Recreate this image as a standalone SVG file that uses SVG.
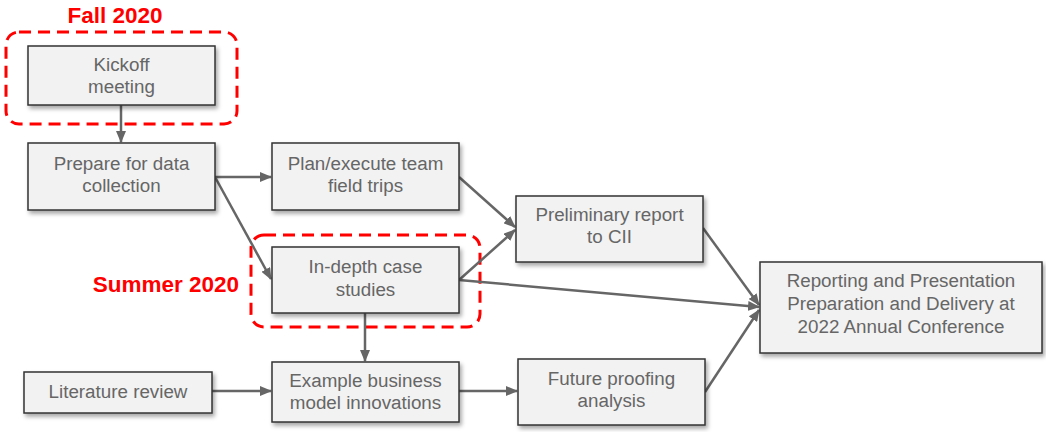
<svg xmlns="http://www.w3.org/2000/svg" width="1046" height="432" viewBox="0 0 1046 432">
<defs>
<filter id="sh" x="-10%" y="-10%" width="130%" height="140%">
<feDropShadow dx="2" dy="3" stdDeviation="2" flood-color="#000" flood-opacity="0.35"/>
</filter>
<marker id="ah" markerWidth="12" markerHeight="10" refX="11" refY="5" orient="auto" markerUnits="userSpaceOnUse">
<path d="M0,0 L12,5 L0,10 Z" fill="#666"/>
</marker>
<style>
.box{fill:#f2f2f2;stroke:#333;stroke-width:1.5;filter:url(#sh)}
.t{font-family:"Liberation Sans",Arial,sans-serif;font-size:18.8px;fill:#666;text-anchor:middle}
.c{stroke:#666;stroke-width:2.5;fill:none;marker-end:url(#ah)}
.grp{fill:none;stroke:#ff0000;stroke-width:3;stroke-dasharray:12,7}
.lbl{font-family:"Liberation Sans",Arial,sans-serif;font-size:22.5px;font-weight:bold;fill:#ff0000}
</style>
</defs>
<rect width="1046" height="432" fill="#fff"/>
<g id="groups">
<rect class="grp" x="6" y="32" width="231" height="92" rx="13"/>
<text class="lbl" x="115" y="23" text-anchor="middle">Fall 2020</text>
<rect class="grp" x="251" y="235" width="229" height="92" rx="13"/>
<text class="lbl" x="239" y="292" text-anchor="end">Summer 2020</text>
</g>
<g id="connectors">
<line class="c" x1="121" y1="105" x2="121" y2="142"/>
<line class="c" x1="215" y1="177" x2="271" y2="177"/>
<line class="c" x1="215" y1="177" x2="271" y2="279"/>
<line class="c" x1="459" y1="177" x2="515" y2="227"/>
<line class="c" x1="459" y1="280" x2="515" y2="230"/>
<line class="c" x1="459" y1="280" x2="759" y2="307"/>
<line class="c" x1="703" y1="228" x2="759" y2="305"/>
<line class="c" x1="705" y1="392" x2="759" y2="310"/>
<line class="c" x1="365" y1="313" x2="365" y2="361"/>
<line class="c" x1="212" y1="391" x2="271" y2="391"/>
<line class="c" x1="459" y1="391" x2="517" y2="391"/>
</g>
<g id="kickoff">
<rect class="box" x="28" y="46" width="187" height="59"/>
<text class="t" x="121.5" y="71">Kickoff</text>
<text class="t" x="121.5" y="93">meeting</text>
</g>
<g id="prepare">
<rect class="box" x="28" y="143" width="187" height="67"/>
<text class="t" x="121.5" y="170">Prepare for data</text>
<text class="t" x="121.5" y="192">collection</text>
</g>
<g id="plan">
<rect class="box" x="272" y="143" width="187" height="67"/>
<text class="t" x="365.5" y="170">Plan/execute team</text>
<text class="t" x="365.5" y="192">field trips</text>
</g>
<g id="indepth">
<rect class="box" x="272" y="247" width="187" height="66"/>
<text class="t" x="365.5" y="273">In-depth case</text>
<text class="t" x="365.5" y="296">studies</text>
</g>
<g id="prelim">
<rect class="box" x="516" y="196" width="187" height="66"/>
<text class="t" x="609.5" y="221">Preliminary report</text>
<text class="t" x="609.5" y="243">to CII</text>
</g>
<g id="reporting">
<rect class="box" x="760" y="262" width="282" height="91"/>
<text class="t" x="901" y="287">Reporting and Presentation</text>
<text class="t" x="901" y="310">Preparation and Delivery at</text>
<text class="t" x="901" y="333">2022 Annual Conference</text>
</g>
<g id="literature">
<rect class="box" x="24" y="372" width="188" height="41"/>
<text class="t" x="118" y="398">Literature review</text>
</g>
<g id="example">
<rect class="box" x="272" y="362" width="187" height="60"/>
<text class="t" x="365.5" y="387">Example business</text>
<text class="t" x="365.5" y="409">model innovations</text>
</g>
<g id="future">
<rect class="box" x="518" y="359" width="187" height="66"/>
<text class="t" x="611.5" y="385">Future proofing</text>
<text class="t" x="611.5" y="407">analysis</text>
</g>
</svg>
